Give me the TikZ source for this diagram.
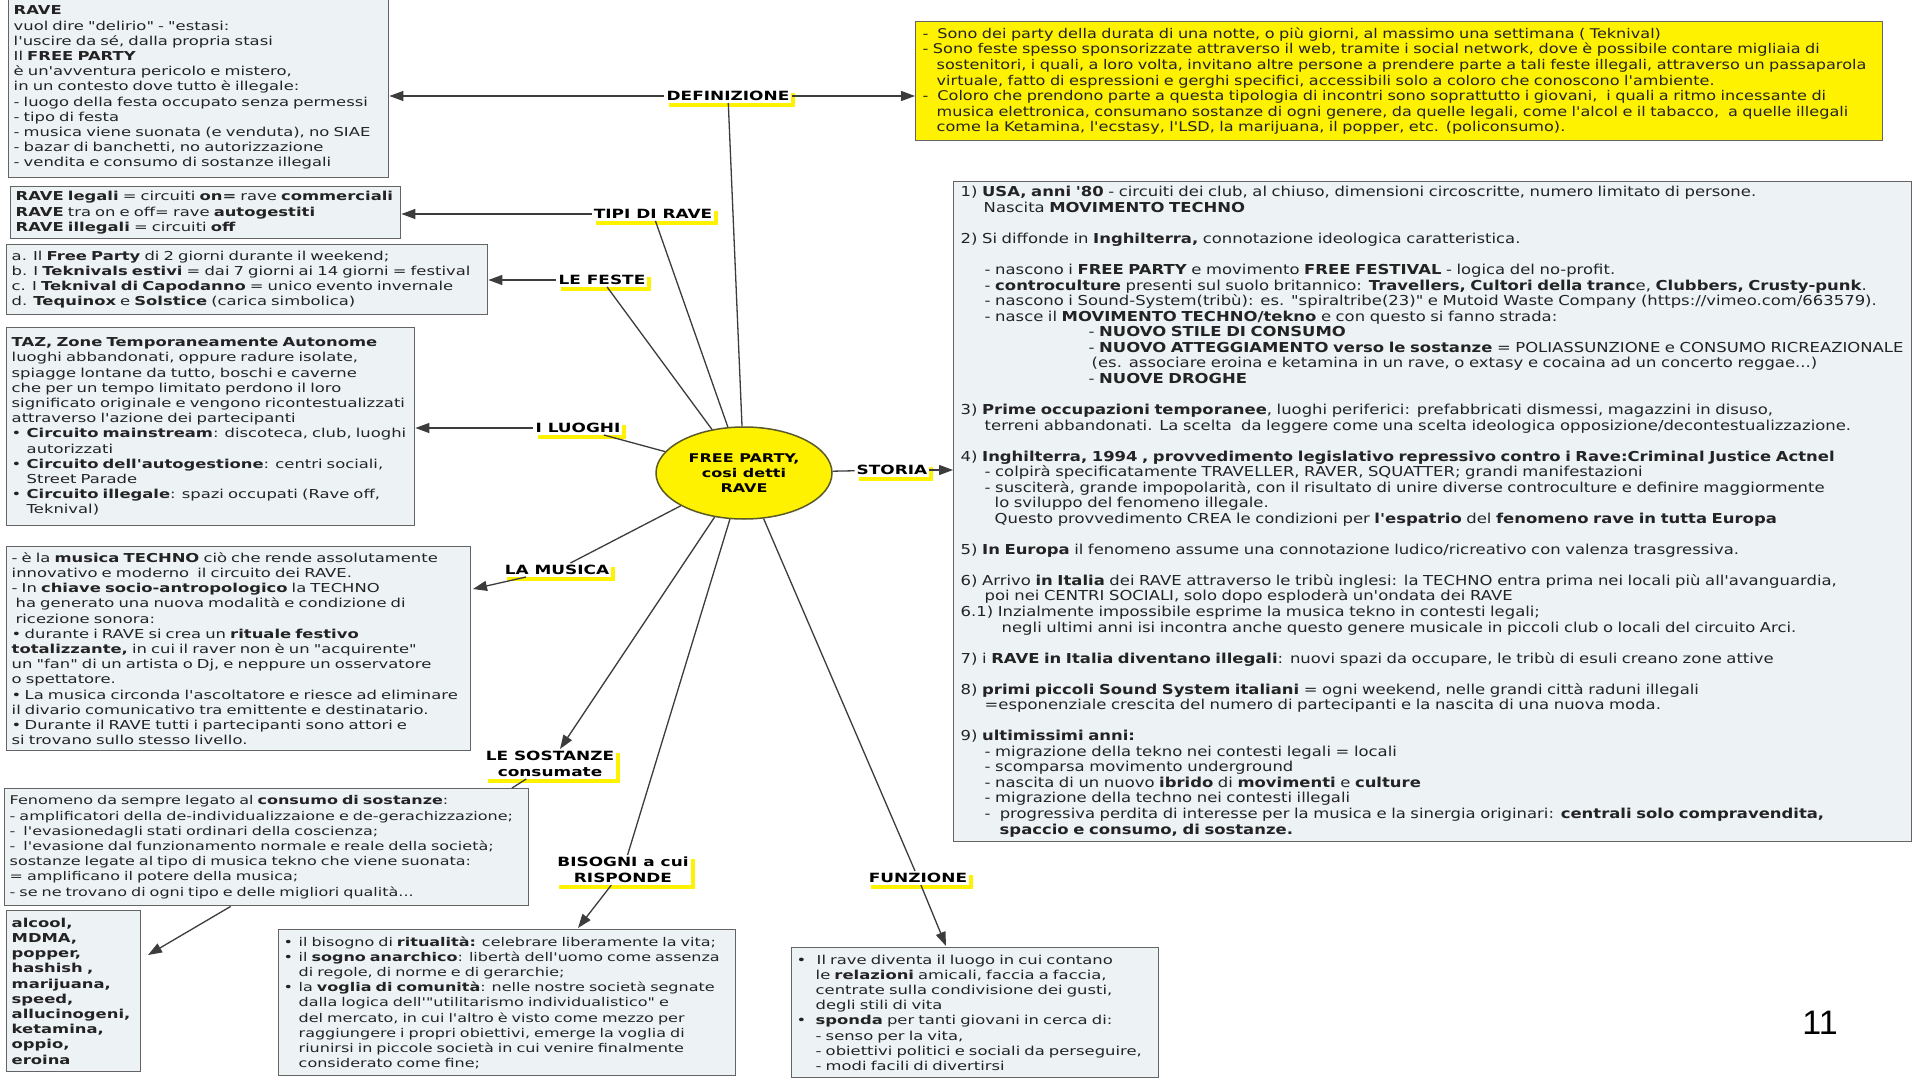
\documentclass[tikz,border=0pt]{standalone}
\usepackage{fontspec}
\usetikzlibrary{arrows.meta,shapes.geometric,shadows}
\newfontfamily\mapfont{DejaVu Sans}[FakeStretch=1.333]
\newfontfamily\histfont{DejaVu Sans}[FakeStretch=1.2]
\newfontfamily\pagefont{Liberation Sans}
\definecolor{boxfill}{RGB}{237,242,245}
\definecolor{boxline}{RGB}{100,100,100}
\definecolor{ink}{RGB}{35,35,35}
\definecolor{linkgray}{RGB}{60,60,60}
\definecolor{hubline}{RGB}{90,90,40}
\newcommand{\bpt}[1][15pt]{\makebox[#1][l]{•}}
\newcommand{\bsp}[1][15pt]{\hspace*{#1}}
\newcommand{\ind}[1]{\hspace*{#1pt}}
\tikzset{
	box/.style={draw=boxline, line width=1.4pt, fill=boxfill, anchor=north west, align=left,
		inner xsep=5pt, inner ysep=3pt, text=ink, text width=#1,
		font=\mapfont\fontsize{12.3}{15.2}\selectfont},
	tightbox/.style={box=#1, font=\mapfont\fontsize{12}{15.2}\selectfont},
	histbox/.style={box=#1, inner xsep=7pt, font=\histfont\fontsize{13.7}{15.54}\selectfont},
	yellowbox/.style={histbox=#1, fill=yellow, draw=boxline, font=\histfont\fontsize{13.4}{15.6}\selectfont},
	hub/.style={ellipse, draw=hubline, line width=1.5pt, fill=yellow, minimum width=176pt,
		minimum height=92pt, inner sep=0pt, align=center,
		font=\mapfont\bfseries\fontsize{12}{15}\selectfont},
	topic/.style={fill=white, inner sep=2pt, align=center,
		font=\mapfont\bfseries\fontsize{12.7}{16}\selectfont,
		drop shadow={fill=yellow, opacity=1, shadow xshift=4pt, shadow yshift=-4pt}},
	link/.style={draw=linkgray, line width=1.3pt},
	arrow/.style={link, -{Triangle[length=14pt,width=10pt]}}
}
\begin{document}
\begin{tikzpicture}[x=1pt,y=-1pt]
	\fill[white] (0,0) rectangle (1915,1081);
	\useasboundingbox (0,0) rectangle (1915,1081);

	\node[hub] (rave) at (744,473) {FREE PARTY,\\cosi detti\\RAVE};

	\node[topic] (deflabel) at (728,96) {DEFINIZIONE};
	\node[topic] (tipilabel) at (653,214) {TIPI DI RAVE};
	\node[topic] (festelabel) at (602,280) {LE FESTE};
	\node[topic] (luoghilabel) at (578,428) {I LUOGHI};
	\node[topic] (storialabel) at (892,470) {STORIA};
	\node[topic] (musicalabel) at (557,570) {LA MUSICA};
	\node[topic] (sostanzelabel) at (550,764) {LE SOSTANZE\\consumate};
	\node[topic] (bisognilabel) at (623,870) {BISOGNI a cui\\RISPONDE};
	\node[topic] (funzionelabel) at (918,878) {FUNZIONE};

	\node[box=370pt, minimum height=180pt] (ravebox) at (8,-3) {
		\textbf{RAVE}\\
		vuol dire "delirio" - "estasi:\\
		l'uscire da sé, dalla propria stasi\\
		Il \textbf{FREE PARTY}\\
		è un'avventura pericolo e mistero,\\
		in un contesto dove tutto è illegale:\\
		- luogo della festa occupato senza permessi\\
		- tipo di festa\\
		- musica viene suonata (e venduta), no SIAE\\
		- bazar di banchetti, no autorizzazione\\
		- vendita e consumo di sostanze illegali};

	\node[yellowbox=953pt, minimum height=119pt] (defbox) at (915,21) {
		-\ \ Sono dei party della durata di una notte, o più giorni, al massimo una settimana ( Teknival)\\
		- Sono feste spesso sponsorizzate attraverso il web, tramite i social network, dove è possibile contare migliaia di\\
		\ind{14}sostenitori, i quali, a loro volta, invitano altre persone a prendere parte a tali feste illegali, attraverso un passaparola\\
		\ind{14}virtuale, fatto di espressioni e gerghi specifici, accessibili solo a coloro che conoscono l'ambiente.\\
		-\ \ Coloro che prendono parte a questa tipologia di incontri sono soprattutto i giovani,\ \ i quali a ritmo incessante di\\
		\ind{14}musica elettronica, consumano sostanze di ogni genere, da quelle legali, come l'alcol e il tabacco,\ \ a quelle illegali\\
		\ind{14}come la Ketamina, l'ecstasy, l'LSD, la marijuana, il popper, etc. (policonsumo).};

	\node[box=380pt, minimum height=52pt] (tipibox) at (10,186) {
		\textbf{RAVE legali} = circuiti \textbf{on=} rave \textbf{commerciali}\\
		\textbf{RAVE} tra on e off= rave \textbf{autogestiti}\\
		\textbf{RAVE illegali} = circuiti \textbf{off}};

	\node[box=471pt, minimum height=70pt] (festebox) at (6,244) {
		a. Il \textbf{Free Party} di 2 giorni durante il weekend;\\
		b. I \textbf{Teknivals estivi} = dai 7 giorni ai 14 giorni = festival\\
		c. I \textbf{Teknival di Capodanno} = unico evento invernale\\
		d. \textbf{Tequinox} e \textbf{Solstice} (carica simbolica)};

	\node[box=398pt, minimum height=198pt] (luoghibox) at (6,327) {
		\textbf{TAZ, Zone Temporaneamente Autonome}\\
		luoghi abbandonati, oppure radure isolate,\\
		spiagge lontane da tutto, boschi e caverne\\
		che per un tempo limitato perdono il loro\\
		significato originale e vengono ricontestualizzati\\
		attraverso l'azione dei partecipanti\\
		\bpt\textbf{Circuito mainstream}: discoteca, club, luoghi\\
		\bsp autorizzati\\
		\bpt\textbf{Circuito dell'autogestione}: centri sociali,\\
		\bsp Street Parade\\
		\bpt\textbf{Circuito illegale}: spazi occupati (Rave off,\\
		\bsp Teknival)};

	\node[box=454pt, minimum height=204pt] (musicabox) at (6,546) {
		- è la \textbf{musica TECHNO} ciò che rende assolutamente\\
		innovativo e moderno\ \ il circuito dei RAVE.\\
		- In \textbf{chiave socio-antropologico} la TECHNO\\
		\ind{4}ha generato una nuova modalità e condizione di\\
		\ind{4}ricezione sonora:\\
		\bpt[13pt]durante i RAVE si crea un \textbf{rituale festivo}\\
		\textbf{totalizzante,} in cui il raver non è un "acquirente"\\
		un "fan" di un artista o Dj, e neppure un osservatore\\
		o spettatore.\\
		\bpt[13pt]La musica circonda l'ascoltatore e riesce ad eliminare\\
		il divario comunicativo tra emittente e destinatario.\\
		\bpt[13pt]Durante il RAVE tutti i partecipanti sono attori e\\
		si trovano sullo stesso livello.};

	\node[tightbox=514pt, minimum height=117pt] (sostanzebox) at (4,788) {
		Fenomeno da sempre legato al \textbf{consumo di sostanze}:\\
		- amplificatori della de-individualizzaione e de-gerachizzazione;\\
		-\ \ l'evasionedagli stati ordinari della coscienza;\\
		-\ \ l'evasione dal funzionamento normale e reale della società;\\
		sostanze legate al tipo di musica tekno che viene suonata:\\
		= amplificano il potere della musica;\\
		- se ne trovano di ogni tipo e delle migliori qualità...};

	\node[box=124pt, minimum height=161pt] (alcolbox) at (6,910) {
		\textbf{alcool,}\\ \textbf{MDMA,}\\ \textbf{popper,}\\ \textbf{hashish ,}\\ \textbf{marijuana,}\\
		\textbf{speed,}\\ \textbf{allucinogeni,}\\ \textbf{ketamina,}\\ \textbf{oppio,}\\ \textbf{eroina}};

	\node[tightbox=447pt, minimum height=146pt] (bisognibox) at (278,929) {
		\bpt il bisogno di \textbf{ritualità:} celebrare liberamente la vita;\\
		\bpt il \textbf{sogno anarchico}: libertà dell'uomo come assenza\\
		\bsp di regole, di norme e di gerarchie;\\
		\bpt la \textbf{voglia di comunità}: nelle nostre società segnate\\
		\bsp dalla logica dell'"utilitarismo individualistico" e\\
		\bsp del mercato, in cui l'altro è visto come mezzo per\\
		\bsp raggiungere i propri obiettivi, emerge la voglia di\\
		\bsp riunirsi in piccole società in cui venire finalmente\\
		\bsp considerato come fine;};

	\node[box=357pt, minimum height=130pt] (funzionebox) at (791,947) {
		\bpt[20pt]Il rave diventa il luogo in cui contano\\
		\bsp[19pt]le \textbf{relazioni} amicali, faccia a faccia,\\
		\bsp[19pt]centrate sulla condivisione dei gusti,\\
		\bsp[19pt]degli stili di vita\\
		\bpt[19pt]\textbf{sponda} per tanti giovani in cerca di:\\
		\bsp[19pt]- senso per la vita,\\
		\bsp[19pt]- obiettivi politici e sociali da perseguire,\\
		\bsp[19pt]- modi facili di divertirsi};

	\node[histbox=944pt, minimum height=660pt] (storiabox) at (953,181) {
		1) \textbf{USA, anni '80} - circuiti dei club, al chiuso, dimensioni circoscritte, numero limitato di persone.\\
		\ind{23}Nascita \textbf{MOVIMENTO TECHNO}\\[15.54pt]
		2) Si diffonde in \textbf{Inghilterra,} connotazione ideologica caratteristica.\\[15.54pt]
		\ind{24}- nascono i \textbf{FREE PARTY} e movimento \textbf{FREE FESTIVAL} - logica del no-profit.\\
		\ind{24}- \textbf{controculture} presenti sul suolo britannico: \textbf{Travellers, Cultori della tranc}e, \textbf{Clubbers, Crusty-punk}.\\
		\ind{24}- nascono i Sound-System(tribù): es. "spiraltribe(23)" e Mutoid Waste Company (https://vimeo.com/663579).\\
		\ind{24}- nasce il \textbf{MOVIMENTO TECHNO/tekno} e con questo si fanno strada:\\
		\ind{128}- \textbf{NUOVO STILE DI CONSUMO}\\
		\ind{128}- \textbf{NUOVO ATTEGGIAMENTO verso le sostanze} = POLIASSUNZIONE e CONSUMO RICREAZIONALE\\
		\ind{131}(es. associare eroina e ketamina in un rave, o extasy e cocaina ad un concerto reggae...)\\
		\ind{128}- \textbf{NUOVE DROGHE}\\[15.54pt]
		3) \textbf{Prime occupazioni temporanee}, luoghi periferici: prefabbricati dismessi, magazzini in disuso,\\
		\ind{24}terreni abbandonati. La scelta\ \ da leggere come una scelta ideologica opposizione/decontestualizzazione.\\[15.54pt]
		4) \textbf{Inghilterra, 1994 , provvedimento legislativo repressivo contro i Rave:Criminal Justice Actnel}\\
		\ind{24}- colpirà specificatamente TRAVELLER, RAVER, SQUATTER; grandi manifestazioni\\
		\ind{24}- susciterà, grande impopolarità, con il risultato di unire diverse controculture e definire maggiormente\\
		\ind{34}lo sviluppo del fenomeno illegale.\\
		\ind{34}Questo provvedimento CREA le condizioni per \textbf{l'espatrio} del \textbf{fenomeno rave in tutta Europa}\\[15.54pt]
		5) \textbf{In Europa} il fenomeno assume una connotazione ludico/ricreativo con valenza trasgressiva.\\[15.54pt]
		6) Arrivo \textbf{in Italia} dei RAVE attraverso le tribù inglesi: la TECHNO entra prima nei locali più all'avanguardia,\\
		\ind{24}poi nei CENTRI SOCIALI, solo dopo esploderà un'ondata dei RAVE\\
		6.1) Inzialmente impossibile esprime la musica tekno in contesti legali;\\
		\ind{41}negli ultimi anni isi incontra anche questo genere musicale in piccoli club o locali del circuito Arci.\\[15.54pt]
		7) i \textbf{RAVE in Italia diventano illegali}: nuovi spazi da occupare, le tribù di esuli creano zone attive\\[15.54pt]
		8) \textbf{primi piccoli Sound System italiani} = ogni weekend, nelle grandi città raduni illegali\\
		\ind{24}=esponenziale crescita del numero di partecipanti e la nascita di una nuova moda.\\[15.54pt]
		9) \textbf{ultimissimi anni:}\\
		\ind{24}- migrazione della tekno nei contesti legali = locali\\
		\ind{24}- scomparsa movimento underground\\
		\ind{24}- nascita di un nuovo \textbf{ibrido} di \textbf{movimenti} e \textbf{culture}\\
		\ind{24}- migrazione della techno nei contesti illegali\\
		\ind{24}-\ \ progressiva perdita di interesse per la musica e la sinergia originari: \textbf{centrali solo compravendita,}\\
		\ind{39}\textbf{spaccio e consumo, di sostanze.}};

	\node[font=\pagefont\fontsize{34}{34}\selectfont] (pagenum) at (1820,1023) {11};

	\coordinate (musicatip) at (473,589);
	\coordinate (sostanzetip) at (512,788);
	\coordinate (alcoltip) at (148,955);
	\coordinate (bisognitip) at (578,928);
	\coordinate (funzionetip) at (946,946);

	\draw[link] (rave) -- (deflabel);
	\draw[link] (rave) -- (tipilabel);
	\draw[link] (rave) -- (festelabel);
	\draw[link] (rave) -- (luoghilabel);
	\draw[link] (rave) -- (storialabel);
	\draw[link] (rave) -- (musicalabel);
	\draw[arrow] (rave) -- (sostanzelabel);
	\draw[link] (rave) -- (bisognilabel);
	\draw[link] (rave) -- (funzionelabel);

	\draw[arrow] (deflabel) -- (deflabel -| ravebox.east);
	\draw[arrow] (deflabel) -- (deflabel -| defbox.west);
	\draw[arrow] (tipilabel) -- (tipilabel -| tipibox.east);
	\draw[arrow] (festelabel) -- (festelabel -| festebox.east);
	\draw[arrow] (luoghilabel) -- (luoghilabel -| luoghibox.east);
	\draw[arrow] (storialabel) -- (storialabel -| storiabox.west);
	\draw[arrow] (musicalabel) -- (musicatip);
	\draw[link] (sostanzelabel) -- (sostanzetip);
	\draw[arrow] ([xshift=-36pt]sostanzebox.south) -- (alcoltip);
	\draw[arrow] (bisognilabel) -- (bisognitip);
	\draw[arrow] (funzionelabel) -- (funzionetip);
\end{tikzpicture}
\end{document}
